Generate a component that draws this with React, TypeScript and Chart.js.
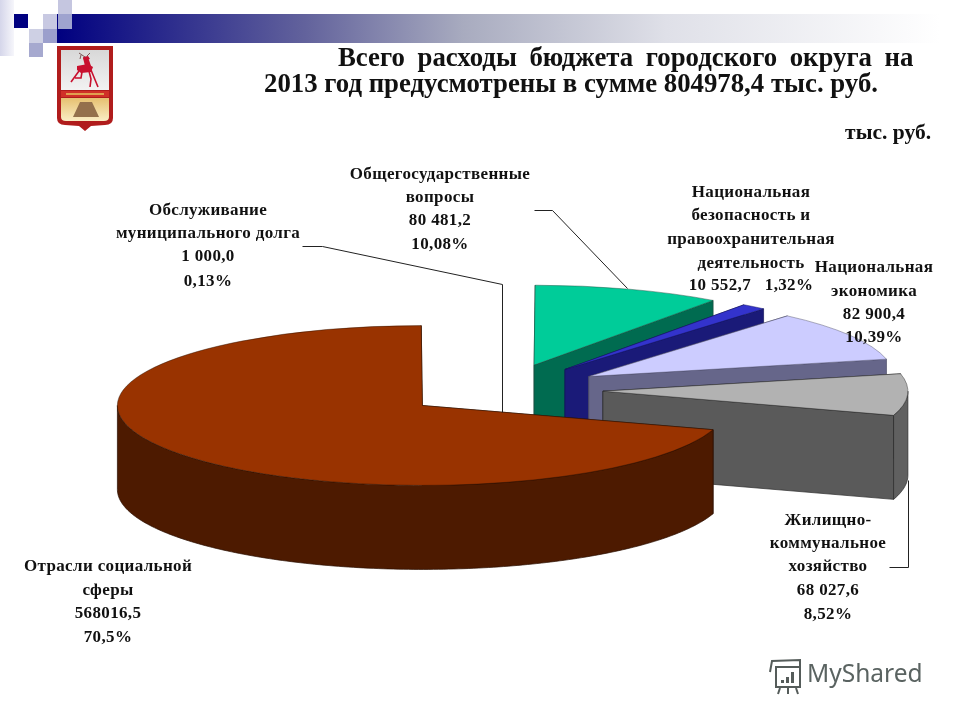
import React, { useEffect, useRef } from "react";
import { Chart, registerables } from "chart.js";

Chart.register(...registerables);

// ---- data ----
const categories = [
  "Обслуживание муниципального долга",
  "Общегосударственные вопросы",
  "Национальная безопасность и правоохранительная деятельность",
  "Национальная экономика",
  "Жилищно-коммунальное хозяйство",
  "Отрасли социальной сферы",
];
const expenses = [1000.0, 80481.2, 10552.7, 82900.4, 68027.6, 568016.5];
const topColors = ["#ffffff", "#00CC99", "#3333CC", "#CCCCFF", "#B2B2B2", "#993300"];
const sideColors = ["#ffffff", "#006B50", "#1A1A78", "#66668A", "#5A5A5A", "#521C00"];
const rimColors = ["#ffffff", "#006B50", "#1A1A78", "#66668A", "#606060", "#4D1A00"];
const edgeColors = ["#ffffff", "#1d4a3d", "#14145a", "#4a4a66", "#2a2a2a", "#2a0f00"];

const titleLine1 = "Всего  расходы  бюджета  городского  округа  на";
const titleLine2 = "2013 год предусмотрены в сумме 804978,4 тыс. руб.";
const unitLabel = "тыс. руб.";
const watermark = "MyShared";

const labelDebt = ["Обслуживание", "муниципального долга", "1 000,0", "0,13%"];
const labelGeneral = ["Общегосударственные", "вопросы", "80 481,2", "10,08%"];
const labelSecurity = ["Национальная", "безопасность и", "правоохранительная", "деятельность", "10 552,7   1,32%"];
const labelEconomy = ["Национальная", "экономика", "82 900,4", "10,39%"];
const labelHousing = ["Жилищно-", "коммунальное", "хозяйство", "68 027,6", "8,52%"];
const labelSocial = ["Отрасли социальной", "сферы", "568016,5", "70,5%"];

// ---- layout ----
const SQUASH = 0.262;
const DEPTH = 84;
const EXPLODE = 100;
const RADIUS = 305;
const PAINT_ORDER = [0, 1, 2, 3, 4, 5];
const SERIF = '"Liberation Serif"';

const labelLayout: [string[], number, number[]][] = [
  [labelGeneral, 440, [175, 198, 221, 245]],
  [labelDebt, 208, [211, 234, 257, 282]],
  [labelSecurity, 751, [193, 216, 240, 264, 286]],
  [labelEconomy, 874, [268, 292, 315, 338]],
  [labelHousing, 828, [521, 544, 567, 591, 615]],
  [labelSocial, 108, [567, 591, 614, 638]],
];

const leaders: number[][][] = [
  [[534, 210], [552, 210], [627, 288]],
  [[302, 246], [322, 246], [502, 284], [502, 412]],
  [[889, 567], [908, 567], [908, 480]],
];

function drawHeader(ctx: CanvasRenderingContext2D) {
  const g = ctx.createLinearGradient(57, 0, 940, 0);
  g.addColorStop(0, "#000080");
  g.addColorStop(0.28, "#62629C");
  g.addColorStop(0.46, "#A8ABBF");
  g.addColorStop(0.69, "#DFE0E8");
  g.addColorStop(1, "#ffffff");
  ctx.fillStyle = g;
  ctx.fillRect(57, 14, 903, 29);
  const fade = ctx.createLinearGradient(0, 0, 14, 0);
  fade.addColorStop(0, "#D5D6EA");
  fade.addColorStop(1, "#F6F6FB");
  ctx.fillStyle = fade;
  ctx.fillRect(0, 0, 14, 56);
  const squares: [number, number, number, number, string][] = [
    [58, 0, 14, 14, "#C5C6E0"],
    [14, 14, 14, 14, "#000080"],
    [43, 14, 14, 15, "#C8C9E2"],
    [58, 14, 14, 15, "#9FA3CF"],
    [29, 29, 14, 14, "#CED0E4"],
    [43, 29, 14, 14, "#9B9FCC"],
    [29, 43, 14, 14, "#A6A9CF"],
  ];
  squares.forEach(([x, y, w, h, c]) => {
    ctx.fillStyle = c;
    ctx.fillRect(x, y, w, h);
  });
}

function poly(ctx: CanvasRenderingContext2D, pts: number[][], color: string) {
  ctx.fillStyle = color;
  ctx.beginPath();
  pts.forEach(([x, y], k) => (k ? ctx.lineTo(x, y) : ctx.moveTo(x, y)));
  ctx.closePath();
  ctx.fill();
}

function drawCrest(ctx: CanvasRenderingContext2D) {
  ctx.save();
  ctx.beginPath();
  ctx.moveTo(57, 46);
  ctx.lineTo(113, 46);
  ctx.lineTo(113, 118);
  ctx.quadraticCurveTo(113, 125, 105, 125);
  ctx.lineTo(91, 126);
  ctx.lineTo(85, 131);
  ctx.lineTo(79, 126);
  ctx.lineTo(65, 125);
  ctx.quadraticCurveTo(57, 125, 57, 118);
  ctx.closePath();
  ctx.fillStyle = "#B01C1C";
  ctx.fill();
  const upper = ctx.createLinearGradient(0, 50, 0, 90);
  upper.addColorStop(0, "#D8D8D8");
  upper.addColorStop(1, "#F2F2F2");
  ctx.fillStyle = upper;
  ctx.fillRect(61, 50, 48, 40);
  ctx.fillStyle = "#D03028";
  ctx.fillRect(61, 91, 48, 6);
  ctx.fillStyle = "#E0A050";
  ctx.fillRect(66, 93, 38, 2);
  const g = ctx.createLinearGradient(0, 98, 0, 122);
  g.addColorStop(0, "#E6C070");
  g.addColorStop(1, "#FBEFC8");
  ctx.fillStyle = g;
  ctx.beginPath();
  ctx.moveTo(61, 98);
  ctx.lineTo(109, 98);
  ctx.lineTo(109, 117);
  ctx.quadraticCurveTo(109, 121, 104, 121);
  ctx.lineTo(66, 121);
  ctx.quadraticCurveTo(61, 121, 61, 117);
  ctx.closePath();
  ctx.fill();
  poly(ctx, [[73, 117], [80, 102], [92, 102], [99, 117]], "#94704C");
  // deer
  const red = "#C8102E";
  poly(ctx, [[77, 66], [88, 64], [93, 67], [91, 72], [81, 73], [77, 70]], red);
  poly(ctx, [[85, 66], [83, 58], [88, 57], [91, 66]], red);
  poly(ctx, [[83, 57], [88, 56], [90, 59], [84, 60]], red);
  ctx.strokeStyle = red;
  ctx.lineWidth = 1.6;
  ctx.beginPath();
  ctx.moveTo(79, 71); ctx.lineTo(71, 82);
  ctx.moveTo(82, 72); ctx.lineTo(81, 78); ctx.lineTo(75, 78);
  ctx.moveTo(91, 70); ctx.lineTo(98, 87);
  ctx.moveTo(89, 71); ctx.lineTo(91, 79); ctx.lineTo(90, 87);
  ctx.stroke();
  ctx.lineWidth = 0.9;
  ctx.strokeStyle = "#704848";
  ctx.beginPath();
  ctx.moveTo(85, 57); ctx.lineTo(79, 53);
  ctx.moveTo(81, 55); ctx.lineTo(80, 59);
  ctx.moveTo(87, 56); ctx.lineTo(90, 53);
  ctx.stroke();
  ctx.restore();
}

function drawIcon(ctx: CanvasRenderingContext2D) {
  ctx.save();
  ctx.strokeStyle = "#555c5a";
  ctx.lineWidth = 2;
  ctx.strokeRect(776, 667, 24, 20);
  ctx.beginPath();
  ctx.moveTo(770, 672);
  ctx.lineTo(772, 661);
  ctx.lineTo(800, 660);
  ctx.lineTo(800, 666);
  ctx.moveTo(780, 688); ctx.lineTo(778, 694);
  ctx.moveTo(788, 688); ctx.lineTo(788, 694);
  ctx.moveTo(796, 688); ctx.lineTo(798, 694);
  ctx.stroke();
  ctx.fillStyle = "#555c5a";
  ctx.fillRect(781, 680, 3, 3);
  ctx.fillRect(786, 677, 3, 6);
  ctx.fillRect(791, 672, 3, 11);
  ctx.restore();
}

const piePlugin = {
  id: "tiltedPie",
  beforeDraw(chart: any) {
    const ctx = chart.ctx as CanvasRenderingContext2D;
    ctx.save();
    ctx.fillStyle = "#ffffff";
    ctx.fillRect(0, 0, chart.width, chart.height);
    drawHeader(ctx);
    drawCrest(ctx);
    drawIcon(ctx);
    ctx.restore();
  },
  beforeDatasetsDraw(chart: any) {
    const ctx = chart.ctx as CanvasRenderingContext2D;
    const meta = chart.getDatasetMeta(0);
    PAINT_ORDER.forEach((i) => {
      const el = meta.data[i];
      const mid = (el.startAngle + el.endAngle) / 2;
      const px = el.x + Math.cos(mid) * EXPLODE;
      const py = el.y + Math.sin(mid) * EXPLODE * SQUASH;
      const R = el.outerRadius;
      const at = (a: number, dy = 0) => [px + R * Math.cos(a), py + R * SQUASH * Math.sin(a) + dy];
      const face = (pts: number[][], color: string) => {
        poly(ctx, pts, color);
        ctx.strokeStyle = edgeColors[i];
        ctx.lineWidth = 0.7;
        ctx.stroke();
      };
      // the two cut faces
      [el.startAngle, el.endAngle].forEach((a: number) => {
        face([[px, py], at(a), at(a, DEPTH), [px, py + DEPTH]], sideColors[i]);
      });
      // the visible outer rim (front half of the wheel only)
      const a0 = Math.max(el.startAngle, 0);
      const a1 = Math.min(el.endAngle, Math.PI);
      if (a1 > a0) {
        const upper: number[][] = [];
        const lower: number[][] = [];
        const steps = Math.max(2, Math.ceil((a1 - a0) * 60));
        for (let s = 0; s <= steps; s++) {
          const a = a0 + ((a1 - a0) * s) / steps;
          upper.push(at(a));
          lower.unshift(at(a, DEPTH));
        }
        face(upper.concat(lower), rimColors[i]);
      }
      // the top surface is the library's own arc element
      ctx.save();
      ctx.translate(px, py);
      ctx.scale(1, SQUASH);
      ctx.translate(-el.x, -el.y);
      el.draw(ctx);
      ctx.restore();
    });
    return false;
  },
  afterDraw(chart: any) {
    const ctx = chart.ctx as CanvasRenderingContext2D;
    ctx.save();
    ctx.strokeStyle = "#222222";
    ctx.lineWidth = 1;
    leaders.forEach((pts) => {
      ctx.beginPath();
      pts.forEach(([x, y], k) => (k ? ctx.lineTo(x + 0.5, y + 0.5) : ctx.moveTo(x + 0.5, y + 0.5)));
      ctx.stroke();
    });
    ctx.textBaseline = "middle";
    ctx.fillStyle = "#111111";
    ctx.textAlign = "center";
    ctx.font = `bold 17px ${SERIF}`;
    (ctx as any).letterSpacing = "0.35px";
    labelLayout.forEach(([lines, cx, ys]) => {
      lines.forEach((t, k) => ctx.fillText(t, cx, ys[k]));
    });
    (ctx as any).letterSpacing = "0px";
    ctx.textAlign = "left";
    ctx.font = `bold 26.8px ${SERIF}`;
    (ctx as any).wordSpacing = "-0.4px";
    ctx.fillText(titleLine1, 338, 59);
    (ctx as any).wordSpacing = "0px";
    ctx.fillText(titleLine2, 264, 85);
    ctx.textAlign = "right";
    ctx.font = `bold 21.5px ${SERIF}`;
    ctx.fillText(unitLabel, 931, 133);
    ctx.textAlign = "left";
    ctx.fillStyle = "#5A6361";
    ctx.font = `24.5px "Noto Sans"`;
    ctx.fillText(watermark, 807, 675);
    ctx.restore();
  },
};

export default function App() {
  const ref = useRef<HTMLCanvasElement>(null);
  useEffect(() => {
    const chart = new Chart(ref.current!, {
      type: "pie",
      data: {
        labels: categories,
        datasets: [
          {
            data: expenses,
            backgroundColor: topColors,
            borderColor: edgeColors,
            borderWidth: 0.7,
          },
        ],
      },
      options: {
        responsive: false,
        animation: false,
        rotation: -0.22,
        radius: RADIUS,
        layout: { padding: { left: 46, top: 60, right: 0, bottom: 0 } },
        plugins: { legend: { display: false }, tooltip: { enabled: false } },
      } as any,
      plugins: [piePlugin as any],
    });
    return () => chart.destroy();
  }, []);
  return (
    <div style={{ position: "fixed", left: 0, top: 0, width: 960, height: 720 }}>
      <canvas ref={ref} width={960} height={720} style={{ display: "block" }} />
    </div>
  );
}
